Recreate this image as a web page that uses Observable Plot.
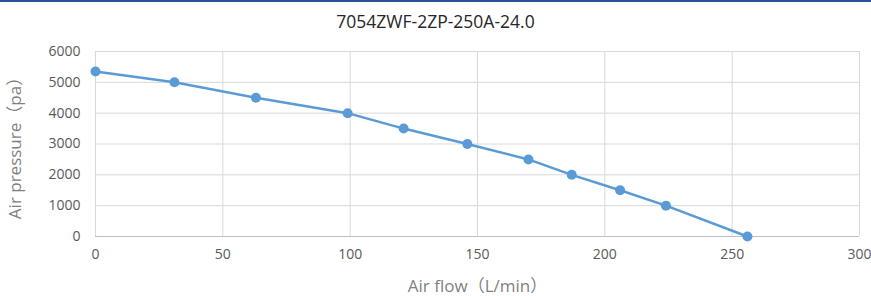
<!DOCTYPE html>
<html>
<head>
<meta charset="utf-8">
<script src="https://cdn.jsdelivr.net/npm/d3@7"></script>
<script src="https://cdn.jsdelivr.net/npm/@observablehq/plot@0.6"></script>
<style>
  body { margin: 0; background: #fff; font-family: "Open Sans", "Noto Sans CJK SC", sans-serif; }
  #top { width: 871px; height: 2px; background: #2a5298; }
  #title { width: 871px; height: 38px; line-height: 38px; text-align: center; font-size: 17.5px; color: #262626; }
</style>
</head>
<body>
<div id="top"></div>
<div id="title">7054ZWF-2ZP-250A-24.0</div>
<div id="chart"></div>
<script>
const airFlow = [0, 31, 63, 99, 121, 146, 170, 187, 206, 224, 256];
const airPressure = [5350, 5000, 4500, 4000, 3500, 3000, 2500, 2000, 1500, 1000, 0];
const xTicks = [0, 50, 100, 150, 200, 250, 300];
const yTicks = [0, 1000, 2000, 3000, 4000, 5000, 6000];
const xLabel = "Air flow（L/min）";
const yLabel = "Air pressure（pa）";

const data = airFlow.map((x, i) => ({x, y: airPressure[i]}));
const font = "'Open Sans', 'Noto Sans CJK SC', sans-serif";

const chart = Plot.plot({
  width: 871,
  height: 256,
  marginTop: 11,
  marginBottom: 60,
  marginLeft: 95,
  marginRight: 12,
  style: {fontFamily: font, background: "#fff"},
  x: {domain: [0, 300], ticks: xTicks},
  y: {domain: [0, 6000], ticks: yTicks},
  marks: [
    Plot.gridX(xTicks, {stroke: "#d9d9d9", strokeOpacity: 1, strokeWidth: 1}),
    Plot.gridY(yTicks, {stroke: "#d9d9d9", strokeOpacity: 1, strokeWidth: 1}),
    Plot.ruleY([0], {stroke: "#bfbfbf", strokeWidth: 1}),
    Plot.axisX(xTicks, {tickSize: 0, tickPadding: 13, fontSize: 14, fill: "#595959", label: null, tickFormat: d => String(d)}),
    Plot.axisY(yTicks, {tickSize: 0, tickPadding: 15, fontSize: 14, fill: "#595959", label: null, tickFormat: d => String(d)}),
    Plot.line(data, {x: "x", y: "y", stroke: "#5b9bd5", strokeWidth: 2.5}),
    Plot.dot(data, {x: "x", y: "y", r: 5, fill: "#5b9bd5", stroke: "none"}),
    Plot.text([xLabel], {frameAnchor: "bottom", textAnchor: "middle", dy: 55, fontSize: 17, fill: "#7f7f7f", fontFamily: font}),
    Plot.text([yLabel], {frameAnchor: "left", textAnchor: "middle", dx: -80, rotate: -90, fontSize: 17, fill: "#7f7f7f", fontFamily: font})
  ]
});
document.getElementById("chart").appendChild(chart);
</script>
</body>
</html>
